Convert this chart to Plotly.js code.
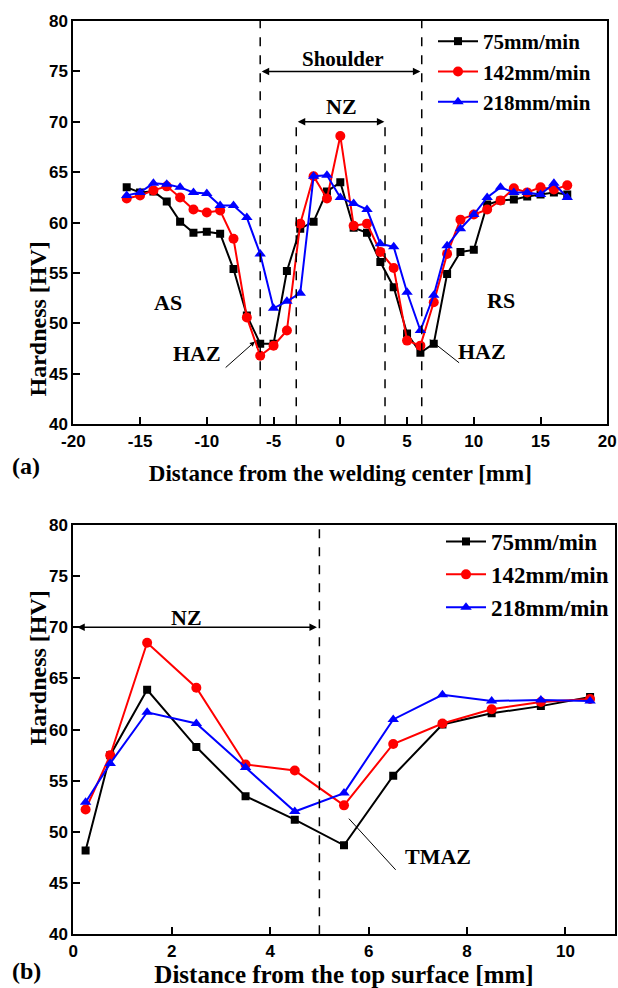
<!DOCTYPE html>
<html>
<head>
<meta charset="utf-8">
<script src="https://cdn.plot.ly/plotly-3.0.1.min.js"></script>
<style>html,body{margin:0;padding:0;background:#fff;}#chart{width:618px;height:988px;}</style>
</head>
<body>
<div id="chart"></div>
<script>
// ---------- Panel (a): hardness across the weld ----------
const distCenter = [-16,-15,-14,-13,-12,-11,-10,-9,-8,-7,-6,-5,-4,-3,-2,-1,0,1,2,3,4,5,6,7,8,9,10,11,12,13,14,15,16,17];
const a75  = [63.5,63.0,63.1,62.1,60.1,59.0,59.1,58.9,55.4,50.8,48.0,48.0,55.2,59.4,60.1,63.1,64.0,59.5,59.0,56.1,53.6,49.0,47.1,48.0,54.9,57.1,57.3,61.8,62.2,62.3,62.6,62.8,63.0,62.8];
const a142 = [62.4,62.7,63.2,63.6,62.5,61.3,61.0,61.2,58.4,50.6,46.8,47.8,49.3,59.9,64.6,62.4,68.6,59.7,59.9,57.1,55.5,48.3,47.8,52.1,56.9,60.3,60.8,61.3,62.2,63.4,63.0,63.5,63.3,63.7];
const a218 = [62.7,63.0,63.9,63.8,63.5,63.0,62.9,61.7,61.7,60.5,56.9,51.5,52.2,53.0,64.6,64.7,62.5,61.9,61.3,57.9,57.6,53.1,49.3,52.8,57.7,59.4,60.8,62.5,63.5,63.0,63.0,62.8,63.9,62.5];

// ---------- Panel (b): hardness through the thickness ----------
const distTop = [0.25,0.75,1.5,2.5,3.5,4.5,5.5,6.5,7.5,8.5,9.5,10.5];
const b75  = [48.2,57.5,63.9,58.3,53.5,51.2,48.7,55.5,60.5,61.6,62.3,63.2];
const b142 = [52.2,57.5,68.5,64.1,56.6,56.0,52.6,58.6,60.6,62.0,62.7,63.0];
const b218 = [52.9,56.7,61.7,60.6,56.3,52.0,53.8,61.0,63.4,62.8,62.9,62.8];

const seriesNames = ['75mm/min','142mm/min','218mm/min'];
const xTicksA = [-20,-15,-10,-5,0,5,10,15,20];
const xTickTextA = ['-20','-15','-10','-5','0','5','10','15','20'];
const xTicksB = [0,2,4,6,8,10];
const xTickTextB = ['0','2','4','6','8','10'];
const yTicks = [40,45,50,55,60,65,70,75,80];
const yTickText = ['40','45','50','55','60','65','70','75','80'];

const colors = ['#000000','#ff0000','#0000ff'];
const symbols = ['square','circle','triangle-up'];
const msizes = [8,10,10];

const serif = 'Liberation Serif, Times New Roman, serif';
const sans = 'Liberation Sans, Arial, sans-serif';

function mk(x, y, i, xa, ya, leg) {
  return {
    x: x, y: y, name: seriesNames[i], type: 'scatter', mode: 'lines+markers',
    xaxis: xa, yaxis: ya, legend: leg,
    line: {color: colors[i], width: 2},
    marker: {color: colors[i], symbol: symbols[i], size: msizes[i]}
  };
}
const dataA = [a75, a142, a218];
const dataB = [b75, b142, b218];
const traces = [];
for (let i = 0; i < 3; i++) traces.push(mk(distCenter, dataA[i], i, 'x', 'y', 'legend'));
for (let i = 0; i < 3; i++) traces.push(mk(distTop, dataB[i], i, 'x2', 'y2', 'legend2'));

const W = 618, H = 988;
const axCommon = {
  showline: true, linecolor: '#000', linewidth: 2, mirror: true,
  ticks: 'inside', ticklen: 7, tickwidth: 2, tickcolor: '#000',
  showgrid: false, zeroline: false,
  tickfont: {family: sans, size: 17, color: '#000', weight: 'bold'}
};
const B = (size) => ({family: serif, size: size, color: '#000', weight: 'bold'});

const layout = {
  width: W, height: H,
  margin: {l: 0, r: 0, t: 0, b: 0},
  paper_bgcolor: '#fff', plot_bgcolor: '#fff',
  showlegend: true,
  xaxis: Object.assign({}, axCommon, {
    domain: [73.3/W, 607.3/W], range: [-20, 20], tickvals: xTicksA, ticktext: xTickTextA, anchor: 'y',
    title: {text: 'Distance from the welding center [mm]', font: B(23), standoff: 15}
  }),
  yaxis: Object.assign({}, axCommon, {
    domain: [1 - 424.3/H, 1 - 21/H], range: [40, 80], tickvals: yTicks, ticktext: yTickText, anchor: 'x'
  }),
  xaxis2: Object.assign({}, axCommon, {
    domain: [73.3/W, 614.7/W], range: [0, 11], tickvals: xTicksB, ticktext: xTickTextB, anchor: 'y2',
    title: {text: 'Distance from the top surface [mm]', font: B(25), standoff: 12}
  }),
  yaxis2: Object.assign({}, axCommon, {
    domain: [1 - 934.3/H, 1 - 525/H], range: [40, 80], tickvals: yTicks, ticktext: yTickText, anchor: 'x2'
  }),
  legend: {
    x: 433/W, y: 1 - 21/H, xanchor: 'left', yanchor: 'top',
    bgcolor: 'rgba(0,0,0,0)', borderwidth: 0,
    font: B(21), itemwidth: 40
  },
  legend2: {
    x: 441/W, y: 1 - 520/H, xanchor: 'left', yanchor: 'top',
    bgcolor: 'rgba(0,0,0,0)', borderwidth: 0,
    font: B(23), itemwidth: 40
  },
  shapes: [
    // panel (a) boundaries: shoulder and NZ
    {type: 'line', xref: 'x', yref: 'y domain', x0: -6, x1: -6, y0: 0, y1: 1, line: {color: '#000', width: 1.5, dash: 'dash'}},
    {type: 'line', xref: 'x', yref: 'y domain', x0: 6.1, x1: 6.1, y0: 0, y1: 1, line: {color: '#000', width: 1.5, dash: 'dash'}},
    {type: 'line', xref: 'x', yref: 'y', x0: -3.3, x1: -3.3, y0: 40, y1: 70, line: {color: '#000', width: 1.5, dash: 'dash'}},
    {type: 'line', xref: 'x', yref: 'y', x0: 3.35, x1: 3.35, y0: 40, y1: 70, line: {color: '#000', width: 1.5, dash: 'dash'}},
    // right HAZ pointer line
    {type: 'line', xref: 'x', yref: 'y', x0: 6.7, x1: 8.9, y0: 48.4, y1: 46.1, line: {color: '#000', width: 1}},
    // panel (b) NZ boundary
    {type: 'line', xref: 'x2', yref: 'y2 domain', x0: 5, x1: 5, y0: 0, y1: 1, line: {color: '#000', width: 1.5, dash: 'dash'}},
    // TMAZ pointer line
    {type: 'line', xref: 'x2', yref: 'y2', x0: 5.6, x1: 6.55, y0: 51.3, y1: 46.3, line: {color: '#000', width: 1}}
  ],
  annotations: [
    // y-axis titles
    {xref: 'paper', yref: 'paper', x: 22/W, y: 1 - 240/H, text: 'Hardness [HV]', textangle: -90, showarrow: false, font: B(24)},
    {xref: 'paper', yref: 'paper', x: 22/W, y: 1 - 748/H, text: 'Hardness [HV]', textangle: -90, showarrow: false, font: B(24)},
    // double arrows
    {xref: 'x', yref: 'y', axref: 'x', ayref: 'y', x: 6.0, y: 75, ax: -6.0, ay: 75, text: '', showarrow: true, arrowside: 'end+start', arrowhead: 2, arrowsize: 1, arrowwidth: 1.5, arrowcolor: '#000'},
    {xref: 'x', yref: 'y', axref: 'x', ayref: 'y', x: 3.3, y: 70, ax: -3.3, ay: 70, text: '', showarrow: true, arrowside: 'end+start', arrowhead: 2, arrowsize: 1, arrowwidth: 1.5, arrowcolor: '#000'},
    {xref: 'x2', yref: 'y2', axref: 'x2', ayref: 'y2', x: 4.95, y: 70, ax: 0.05, ay: 70, text: '', showarrow: true, arrowside: 'end+start', arrowhead: 2, arrowsize: 1, arrowwidth: 1.5, arrowcolor: '#000'},
    // left HAZ arrow
    {xref: 'x', yref: 'y', axref: 'x', ayref: 'y', x: -6.4, y: 48.2, ax: -8.7, ay: 45.5, text: '', showarrow: true, arrowhead: 2, arrowsize: 1, arrowwidth: 1, arrowcolor: '#000'},
    // text labels
    {xref: 'x', yref: 'y', x: 0.2, y: 76.2, text: 'Shoulder', showarrow: false, font: B(21)},
    {xref: 'x', yref: 'y', x: 0.1, y: 71.5, text: 'NZ', showarrow: false, font: B(22)},
    {xref: 'x', yref: 'y', x: -12.9, y: 52.1, text: 'AS', showarrow: false, font: B(22)},
    {xref: 'x', yref: 'y', x: 12.0, y: 52.3, text: 'RS', showarrow: false, font: B(22)},
    {xref: 'x', yref: 'y', x: -10.7, y: 47.0, text: 'HAZ', showarrow: false, font: B(22)},
    {xref: 'x', yref: 'y', x: 10.6, y: 47.2, text: 'HAZ', showarrow: false, font: B(22)},
    {xref: 'x2', yref: 'y2', x: 2.3, y: 71.0, text: 'NZ', showarrow: false, font: B(22)},
    {xref: 'x2', yref: 'y2', x: 7.4, y: 47.6, text: 'TMAZ', showarrow: false, font: B(22)},
    // panel letters
    {xref: 'paper', yref: 'paper', x: 10/W, y: 1 - 466/H, xanchor: 'left', yanchor: 'middle', text: '(a)', showarrow: false, font: B(24)},
    {xref: 'paper', yref: 'paper', x: 10/W, y: 1 - 971/H, xanchor: 'left', yanchor: 'middle', text: '(b)', showarrow: false, font: B(24)}
  ]
};

Plotly.newPlot('chart', traces, layout, {displayModeBar: false, staticPlot: true});
</script>
</body>
</html>
